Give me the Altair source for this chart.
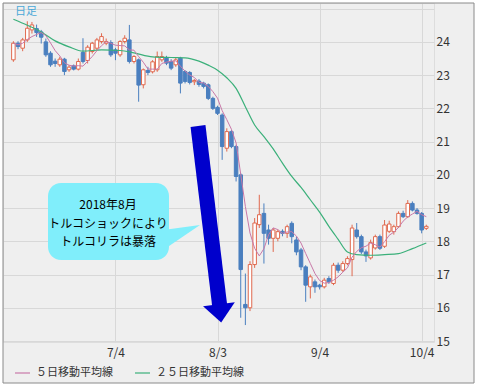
import altair as alt
import pandas as pd

FONT = "Noto Sans CJK JP"
RED = "#e0694e"
BLUE = "#4a7fbf"
PINK = "#c878a8"
GREEN = "#3bb07a"
GRID = "#d8d8d8"
PANEL = "#efefef"
FRAME = "#8a8a8a"

dates = ["6/4", "6/5", "6/6", "6/7", "6/8", "6/11", "6/12", "6/13", "6/14", "6/15",
         "6/18", "6/19", "6/20", "6/21", "6/22", "6/25", "6/26", "6/27", "6/28", "6/29",
         "7/2", "7/3", "7/4", "7/5", "7/6", "7/9", "7/10", "7/11", "7/12", "7/13",
         "7/16", "7/17", "7/18", "7/19", "7/20", "7/23", "7/24", "7/25", "7/26", "7/27",
         "7/30", "7/31", "8/1", "8/2", "8/3", "8/6", "8/7", "8/8", "8/9", "8/10",
         "8/13", "8/14", "8/15", "8/16", "8/17", "8/20", "8/21", "8/22", "8/23", "8/24",
         "8/27", "8/28", "8/29", "8/30", "8/31", "9/3", "9/4", "9/5", "9/6", "9/7",
         "9/10", "9/11", "9/12", "9/13", "9/14", "9/17", "9/18", "9/19", "9/20", "9/21",
         "9/24", "9/25", "9/26", "9/27", "9/28", "10/1", "10/2", "10/3", "10/4", "10/5"]

opens = [23.46, 23.96, 23.81, 24.06, 24.36, 24.40, 24.30, 24.00, 23.66, 23.42,
         23.31, 23.48, 23.16, 23.28, 23.18, 23.68, 23.44, 23.71, 23.81, 24.01,
         23.96, 23.98, 23.76, 23.61, 24.01, 24.06, 23.41, 23.46, 22.71, 23.14,
         23.10, 23.16, 23.46, 23.51, 23.41, 23.31, 23.51, 23.11, 23.08, 22.80,
         22.82, 22.76, 22.71, 22.30, 22.03, 21.80, 20.80, 21.30, 20.85, 20.00,
         16.10, 16.00, 17.30, 18.50, 18.84, 18.34, 18.09, 18.09, 18.30, 18.24,
         18.54, 18.04, 17.74, 17.23, 16.63, 16.78, 16.68, 16.63, 16.88, 16.73,
         17.28, 17.13, 17.33, 17.45, 18.34, 18.14, 17.68, 17.50, 17.80, 18.14,
         17.85, 18.30, 18.29, 18.44, 18.84, 18.74, 19.14, 18.94, 18.84, 18.39]
highs = [24.02, 24.02, 24.12, 24.62, 24.60, 24.52, 24.36, 24.10, 23.72, 23.50,
         23.55, 23.52, 23.30, 23.32, 23.50, 24.11, 23.90, 24.00, 24.12, 24.26,
         24.10, 24.05, 23.82, 24.05, 24.20, 24.51, 23.60, 23.50, 23.20, 23.25,
         23.45, 23.71, 23.71, 23.58, 23.48, 23.52, 23.55, 23.15, 23.12, 22.88,
         22.88, 22.80, 22.75, 22.35, 22.08, 21.85, 21.40, 21.35, 20.90, 20.05,
         17.03, 17.40, 18.70, 19.40, 19.14, 18.50, 18.40, 18.35, 18.36, 18.50,
         18.60, 18.14, 17.80, 17.28, 17.00, 16.85, 16.72, 16.90, 16.95, 17.35,
         17.36, 17.40, 17.55, 18.50, 18.55, 18.20, 17.75, 18.05, 18.20, 18.20,
         18.64, 18.62, 18.50, 18.90, 18.92, 19.24, 19.20, 19.00, 18.88, 18.50]
lows = [23.40, 23.78, 23.72, 24.00, 24.25, 24.15, 23.95, 23.55, 23.25, 23.25,
        23.25, 23.00, 23.10, 23.14, 23.14, 23.35, 23.35, 23.65, 23.75, 23.95,
        23.90, 23.55, 23.45, 23.55, 23.95, 23.35, 23.35, 22.20, 22.60, 23.00,
        23.05, 23.10, 23.40, 23.30, 23.15, 23.25, 22.45, 22.75, 22.72, 22.70,
        22.65, 22.60, 22.25, 21.95, 21.80, 20.45, 20.70, 20.80, 19.80, 15.70,
        15.48, 15.90, 17.20, 18.40, 17.33, 17.90, 17.68, 18.00, 18.15, 18.10,
        17.94, 17.58, 17.13, 16.18, 16.28, 16.45, 16.55, 16.58, 16.72, 16.68,
        17.05, 17.08, 17.28, 16.95, 18.08, 17.62, 17.38, 17.45, 17.75, 17.74,
        17.80, 18.25, 18.20, 18.40, 18.70, 18.70, 18.90, 18.80, 18.24, 18.34]
closes = [23.96, 23.86, 24.06, 24.41, 24.51, 24.28, 24.14, 23.61, 23.31, 23.35,
          23.48, 23.11, 23.24, 23.18, 23.41, 23.41, 23.84, 23.96, 24.06, 24.16,
          24.01, 23.61, 23.66, 24.01, 24.11, 23.41, 23.56, 22.70, 23.16, 23.08,
          23.40, 23.56, 23.56, 23.36, 23.21, 23.46, 22.76, 22.81, 22.78, 22.84,
          22.72, 22.66, 22.30, 22.00, 21.85, 20.85, 21.30, 20.85, 19.95, 17.15,
          16.00, 17.30, 18.55, 18.80, 18.24, 18.09, 18.34, 18.29, 18.24, 18.44,
          18.14, 17.68, 17.23, 16.68, 16.93, 16.63, 16.63, 16.83, 16.78, 17.28,
          17.13, 17.33, 17.48, 18.40, 18.14, 17.68, 17.56, 17.96, 18.14, 17.79,
          18.49, 18.52, 18.44, 18.84, 18.74, 19.14, 18.94, 18.84, 18.34, 18.45]

# 25-day moving average
ma25_idx = [0, 3, 6, 9, 12, 15, 19, 23, 26, 30, 34, 37, 40, 42, 44, 46, 48, 50,
            52, 54, 56, 58, 60, 62, 64, 66, 68, 70, 72, 74, 77, 80, 83, 86, 89]
ma25_val = [24.68, 24.50, 24.30, 24.03, 23.85, 23.72, 23.76, 23.74, 23.67, 23.55,
            23.53, 23.52, 23.42, 23.30, 23.15, 22.92, 22.60, 22.05, 21.50, 21.15,
            20.78, 20.35, 19.95, 19.62, 19.25, 18.88, 18.45, 18.06, 17.68, 17.60,
            17.58, 17.60, 17.63, 17.78, 17.95]

tick_idx = [22, 44, 66, 88]
tick_labels = ["7/4", "8/3", "9/4", "10/4"]
y_ticks = [15, 16, 17, 18, 19, 20, 21, 22, 23, 24, 25]
legend_labels = ["５日移動平均線", "２５日移動平均線"]
note_lines = ["2018年8月", "トルコショックにより", "トルコリラは暴落"]
corner_label = "日足"

df = pd.DataFrame({"i": list(range(len(dates))), "date": dates, "open": opens,
                   "high": highs, "low": lows, "close": closes})
df["dir"] = ["up" if c >= o else "down" for o, c in zip(opens, closes)]
ma25 = pd.DataFrame({"i": ma25_idx, "v": ma25_val})

W, H = 431, 339
xs = alt.Scale(domain=[-1.16, 89.58], nice=False, zero=False)
ys = alt.Scale(domain=[14.97, 25.17], nice=False, zero=False)

label_expr = " : ".join(f"datum.value == {k} ? '{t}'" for k, t in zip(tick_idx, tick_labels)) + " : ''"

x_axis = alt.Axis(values=tick_idx, labelExpr=label_expr, title=None, grid=True, ticks=False,
                  domain=False, labelPadding=5, labelFontSize=12, labelColor="#333333",
                  labelFont=FONT, gridColor=GRID, labelFlush=False)
y_axis = alt.Axis(values=y_ticks, orient="right", title=None, grid=True, ticks=False, domain=False,
                  labelPadding=2, labelFontSize=12, labelColor="#333333", labelFont=FONT,
                  gridColor=GRID, labelExpr="datum.value >= 25 ? '' : datum.label")

one = pd.DataFrame({"a": [0]})

def pv(v):
    return alt.value(v)

def X(field):
    return alt.X(field, scale=xs, axis=x_axis)

def Y(field):
    return alt.Y(field, scale=ys, axis=y_axis)

# white page outside the grey frame
outer_bottom = alt.Chart(one).mark_rect(fill="#ffffff").encode(
    x=pv(-3), x2=pv(480), y=pv(380), y2=pv(390))
outer_right = alt.Chart(one).mark_rect(fill="#ffffff").encode(
    x=pv(471), x2=pv(480), y=pv(-3), y2=pv(390))
outer_left = alt.Chart(one).mark_rect(fill="#ffffff").encode(
    x=pv(-3), x2=pv(0), y=pv(-3), y2=pv(390))
outer_top = alt.Chart(one).mark_rect(fill="#ffffff").encode(
    x=pv(-3), x2=pv(480), y=pv(-3), y2=pv(0))
frame = alt.Chart(one).mark_rect(fill=None, stroke=FRAME, strokeWidth=1).encode(
    x=pv(0), x2=pv(471), y=pv(0), y2=pv(380))

base = alt.Chart(df)
wicks = base.mark_rule(strokeWidth=1).encode(
    x=X("i:Q"), y=Y("low:Q"), y2="high:Q",
    stroke=alt.Stroke("dir:N", scale=alt.Scale(domain=["up", "down"], range=[RED, BLUE]), legend=None),
)
bodies = base.mark_bar(size=3.5, strokeWidth=1).encode(
    x=X("i:Q"), y=Y("open:Q"), y2="close:Q",
    fill=alt.Fill("dir:N", scale=alt.Scale(domain=["up", "down"], range=["#ffffff", BLUE]), legend=None),
    stroke=alt.Stroke("dir:N", scale=alt.Scale(domain=["up", "down"], range=[RED, BLUE]), legend=None),
)
ma5_line = base.transform_window(
    ma5="mean(close)", frame=[-4, 0], sort=[alt.SortField("i")]
).mark_line(color=PINK, strokeWidth=1).encode(x=X("i:Q"), y=Y("ma5:Q"))
ma25_line = alt.Chart(ma25).mark_line(color=GREEN, strokeWidth=1.2, interpolate="monotone").encode(
    x=X("i:Q"), y=Y("v:Q"))

# callout box
CYAN = "#80eefb"
box = alt.Chart(one).mark_rect(fill=CYAN, cornerRadius=13).encode(
    x=pv(45), x2=pv(166), y=pv(180), y2=pv(257))
tail = alt.Chart(one).mark_point(
    shape="M-1.3,-0.44L-1.3,0.81L1,-0.75Z", filled=True, fill=CYAN, opacity=1, strokeWidth=0, size=1024
).encode(x=pv(181), y=pv(234))
note_layers = []
for k, t in enumerate(note_lines):
    note_layers.append(
        alt.Chart(pd.DataFrame({"t": [t]})).mark_text(
            font=FONT, fontSize=12, color="#000000", align="center", baseline="middle"
        ).encode(text="t:N", x=pv(105), y=pv(202 + 18.5 * k))
    )

# big arrow
ARROW = "#0000cc"
shaft = alt.Chart(one).mark_rule(stroke=ARROW, strokeWidth=15, strokeCap="butt").encode(
    x=pv(195), y=pv(123), x2=pv(216.6), y2=pv(302))
head = alt.Chart(one).mark_point(
    shape="M-1,-0.55L1,-0.55L0,0.6Z", filled=True, fill=ARROW, opacity=1, strokeWidth=0,
    size=1024, angle=353
).encode(x=pv(217), y=pv(310))

corner = alt.Chart(pd.DataFrame({"t": [corner_label]})).mark_text(
    font=FONT, fontSize=11, color="#4aa8d8", align="left", baseline="middle"
).encode(text="t:N", x=pv(12), y=pv(9))

# legend
leg_x = [12, 132]
leg_colors = [PINK, GREEN]
leg_layers = []
for lx, col, lab in zip(leg_x, leg_colors, legend_labels):
    leg_layers.append(alt.Chart(one).mark_rule(stroke=col, strokeWidth=1.2).encode(
        x=pv(lx), x2=pv(lx + 15), y=pv(370), y2=pv(370)))
    leg_layers.append(alt.Chart(pd.DataFrame({"t": [lab]})).mark_text(
        font=FONT, fontSize=11, color="#333333", align="left", baseline="middle"
    ).encode(text="t:N", x=pv(lx + 21), y=pv(370)))

chart = alt.layer(
    outer_bottom, outer_right, outer_left, outer_top,
    wicks, bodies, ma25_line, ma5_line,
    box, tail, *note_layers, shaft, head, corner, *leg_layers, frame
).properties(
    width=W, height=H,
    autosize=alt.AutoSizeParams(type="none"),
    padding={"left": 3, "top": 3, "right": 43, "bottom": 45},
).configure_view(
    fill="#ffffff", stroke=FRAME, strokeWidth=1
).configure(background=PANEL)

chart.save("out.html", embed_options={"renderer": "svg", "actions": False})
